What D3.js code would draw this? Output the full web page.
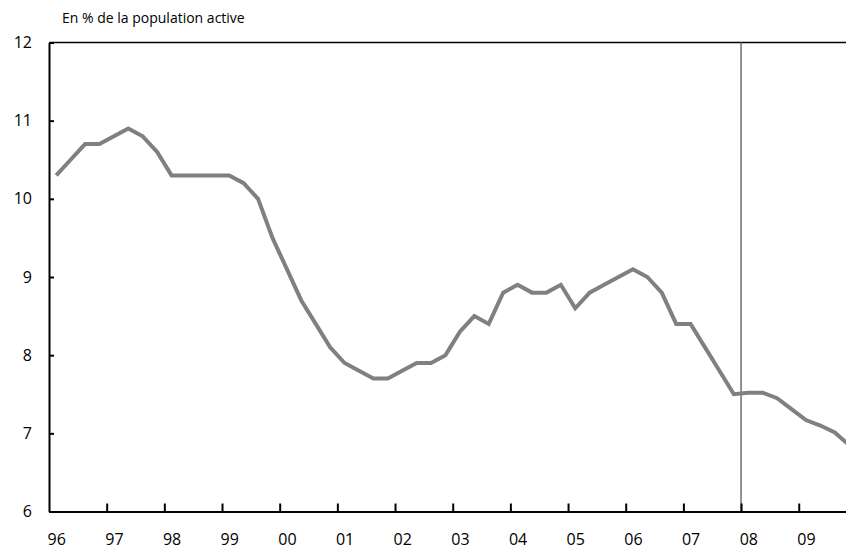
<!DOCTYPE html>
<html>
<head>
<meta charset="utf-8">
<script src="https://cdn.jsdelivr.net/npm/d3@7"></script>
<style>
  body { margin: 0; background: #fff; }
  svg { display: block; }
  text { font-family: "Open Sans", sans-serif; fill: #000; }
</style>
</head>
<body>
<svg id="chart" width="846" height="549"></svg>
<script>
// year labels (one per year, 1996-2009)
var yearLabels = ['96','97','98','99','00','01','02','03','04','05','06','07','08','09'];
// quarterly unemployment rate, % of labour force, Q1 1996 .. Q4 2009
var rate = [
	10.3, 10.5, 10.7, 10.7,   // 96
	10.8, 10.9, 10.8, 10.6,   // 97
	10.3, 10.3, 10.3, 10.3,   // 98
	10.3, 10.2, 10.0, 9.5,    // 99
	9.1, 8.7, 8.4, 8.1,       // 00
	7.9, 7.8, 7.7, 7.7,       // 01
	7.8, 7.9, 7.9, 8.0,       // 02
	8.3, 8.5, 8.4, 8.8,       // 03
	8.9, 8.8, 8.8, 8.9,       // 04
	8.6, 8.8, 8.9, 9.0,       // 05
	9.1, 9.0, 8.8, 8.4,       // 06
	8.4, 8.1, 7.8, 7.5,       // 07
	7.52, 7.52, 7.45, 7.31,   // 08
	7.17, 7.1, 7.01, 6.85     // 09
];
var yTicks = [6, 7, 8, 9, 10, 11, 12];
var unitLabel = 'En % de la population active';
var forecastStart = '08';

var svg = d3.select('#chart');

// plot box (right side runs past the picture edge, as in the source)
var box = { left: 49, right: 856.4, top: 42.5, bottom: 511.5 };

var x = d3.scaleLinear().domain([0, yearLabels.length * 4]).range([box.left, box.right]);
var y = d3.scaleLinear().domain([6, 12]).range([box.bottom, box.top]);

//frame top
svg.append('line')
	.attr('x1', box.left).attr('x2', box.right)
	.attr('y1', box.top).attr('y2', box.top)
	.attr('stroke', '#000').attr('stroke-width', 1.7);

// forecast separator
var fx = x(yearLabels.indexOf(forecastStart) * 4);
svg.append('line')
	.attr('x1', fx).attr('x2', fx)
	.attr('y1', box.top).attr('y2', box.bottom)
	.attr('stroke', '#6e6e6e').attr('stroke-width', 1.5);

// y axis
var yAxis = svg.append('g')
	.attr('transform', 'translate(' + box.left + ',0)')
	.call(d3.axisLeft(y).tickValues(yTicks).tickSizeInner(-5).tickSizeOuter(0).tickPadding(17).tickFormat(d3.format('d')));
yAxis.selectAll('path, line').attr('stroke', '#000').attr('stroke-width', 2);
yAxis.selectAll('text').attr('font-size', 16).style('font-family', '"Open Sans", sans-serif');

// x axis : ticks on year boundaries
var xAxis = svg.append('g')
	.attr('transform', 'translate(0,' + box.bottom + ')')
	.call(d3.axisBottom(x)
		.tickValues(d3.range(4, yearLabels.length * 4, 4))
		.tickSizeInner(-8).tickSizeOuter(0).tickFormat(''));
xAxis.selectAll('path, line').attr('stroke', '#000').attr('stroke-width', 2);

// x labels under the first quarter of each year
var xLab = svg.append('g')
	.attr('transform', 'translate(0,' + box.bottom + ')')
	.call(d3.axisBottom(x)
		.tickValues(d3.range(0, yearLabels.length).map(function(i){ return i * 4 + 0.5; }))
		.tickSize(0).tickPadding(22)
		.tickFormat(function(d){ return yearLabels[Math.floor(d / 4)]; }));
xLab.select('.domain').remove();
xLab.selectAll('text').attr('font-size', 16).style('font-family', '"Open Sans", sans-serif');

// series
var line = d3.line()
	.x(function(d, i){ return x(i + 0.5); })
	.y(function(d){ return y(d); });

svg.append('path')
	.datum(rate)
	.attr('d', line)
	.attr('fill', 'none')
	.attr('stroke', '#808080')
	.attr('stroke-width', 4)
	.attr('stroke-linejoin', 'miter');

svg.append('text')
	.attr('x', 62).attr('y', 23)
	.attr('font-size', 14)
	.text(unitLabel);
</script>
</body>
</html>
